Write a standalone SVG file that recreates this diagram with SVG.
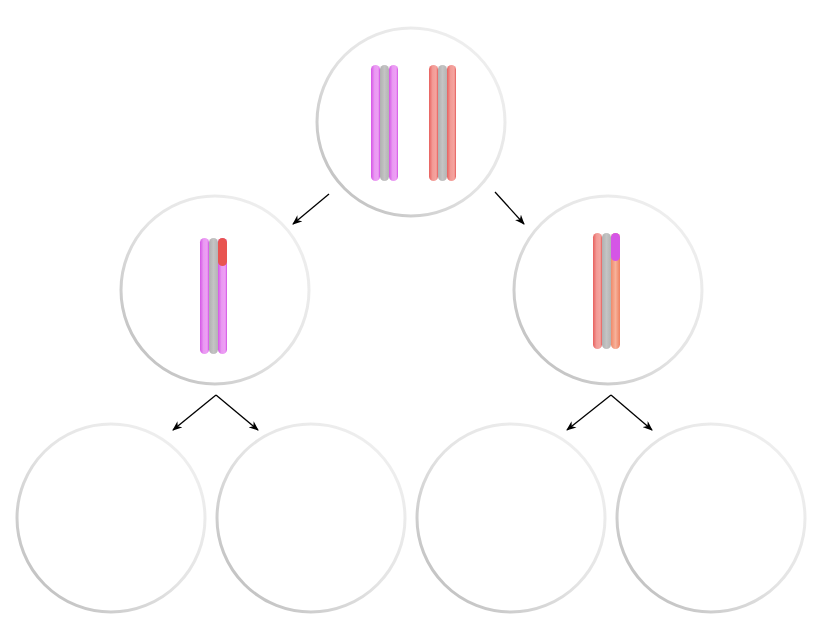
<svg xmlns="http://www.w3.org/2000/svg" width="814" height="634" viewBox="0 0 814 634">
<defs>
<linearGradient id="ring" x1="0" y1="1" x2="1" y2="0"><stop offset="0" stop-color="#b8b8b8"/><stop offset="0.5" stop-color="#e4e4e4"/><stop offset="1" stop-color="#f2f2f2"/></linearGradient>
<linearGradient id="mag" x1="0" x2="1"><stop offset="0" stop-color="#d555e6"/><stop offset="0.4" stop-color="#e99af2"/><stop offset="0.8" stop-color="#ee9ff5"/><stop offset="1" stop-color="#d050e3"/></linearGradient>
<linearGradient id="red" x1="0" x2="1"><stop offset="0" stop-color="#e8605e"/><stop offset="0.4" stop-color="#f29b96"/><stop offset="0.8" stop-color="#f5a5a0"/><stop offset="1" stop-color="#e45a58"/></linearGradient>
<linearGradient id="org" x1="0" x2="1"><stop offset="0" stop-color="#f08a6a"/><stop offset="0.5" stop-color="#f7b29a"/><stop offset="1" stop-color="#ee8060"/></linearGradient>
<linearGradient id="gry" x1="0" x2="1"><stop offset="0" stop-color="#b0b0b0"/><stop offset="0.5" stop-color="#c4c4c4"/><stop offset="1" stop-color="#b4b4b4"/></linearGradient>
<marker id="ah" markerWidth="10" markerHeight="8" refX="9" refY="4" orient="auto" markerUnits="userSpaceOnUse"><path d="M0,0 L10,4 L0,8 L3,4 Z" fill="#000"/></marker>
<style>.c{fill:#fff;stroke:url(#ring);stroke-width:3}.a{stroke:#000;stroke-width:1.3;fill:none;marker-end:url(#ah)}</style>
</defs>
<g id="cell-top"><circle class="c" cx="411" cy="122" r="94"/>
<rect x="371" y="65" width="9" height="116" rx="4.5" fill="url(#mag)"/><rect x="380" y="65" width="9" height="116" rx="4.5" fill="url(#gry)"/><rect x="389" y="65" width="9" height="116" rx="4.5" fill="url(#mag)"/>
<rect x="429" y="65" width="9" height="116" rx="4.5" fill="url(#red)"/><rect x="438" y="65" width="9" height="116" rx="4.5" fill="url(#gry)"/><rect x="447" y="65" width="9" height="116" rx="4.5" fill="url(#red)"/></g>
<g id="cell-left"><circle class="c" cx="215" cy="290" r="94"/>
<rect x="200" y="238" width="9" height="116" rx="4.5" fill="url(#mag)"/><rect x="209" y="238" width="9" height="116" rx="4.5" fill="url(#gry)"/><rect x="218" y="238" width="9" height="116" rx="4.5" fill="url(#mag)"/>
<rect x="218" y="238" width="9" height="28" rx="4.5" fill="#e85450"/></g>
<g id="cell-right"><circle class="c" cx="608" cy="290" r="94"/>
<rect x="593" y="233" width="9" height="116" rx="4.5" fill="url(#red)"/><rect x="602" y="233" width="9" height="116" rx="4.5" fill="url(#gry)"/><rect x="611" y="233" width="9" height="116" rx="4.5" fill="url(#org)"/>
<rect x="611" y="233" width="9" height="28" rx="4.5" fill="#d555e6"/></g>
<g id="cell-b1"><circle class="c" cx="111" cy="518" r="94"/></g>
<g id="cell-b2"><circle class="c" cx="311" cy="518" r="94"/></g>
<g id="cell-b3"><circle class="c" cx="511" cy="518" r="94"/></g>
<g id="cell-b4"><circle class="c" cx="711" cy="518" r="94"/></g>
<g id="connectors">
<line class="a" x1="329" y1="194" x2="293" y2="224"/><line class="a" x1="495" y1="192" x2="524" y2="224"/>
<path class="a" d="M216,395 L173,430"/><path class="a" d="M216,395 L258,430"/>
<path class="a" d="M611,395 L567,430"/><path class="a" d="M611,395 L652,430"/>
</g>
</svg>
